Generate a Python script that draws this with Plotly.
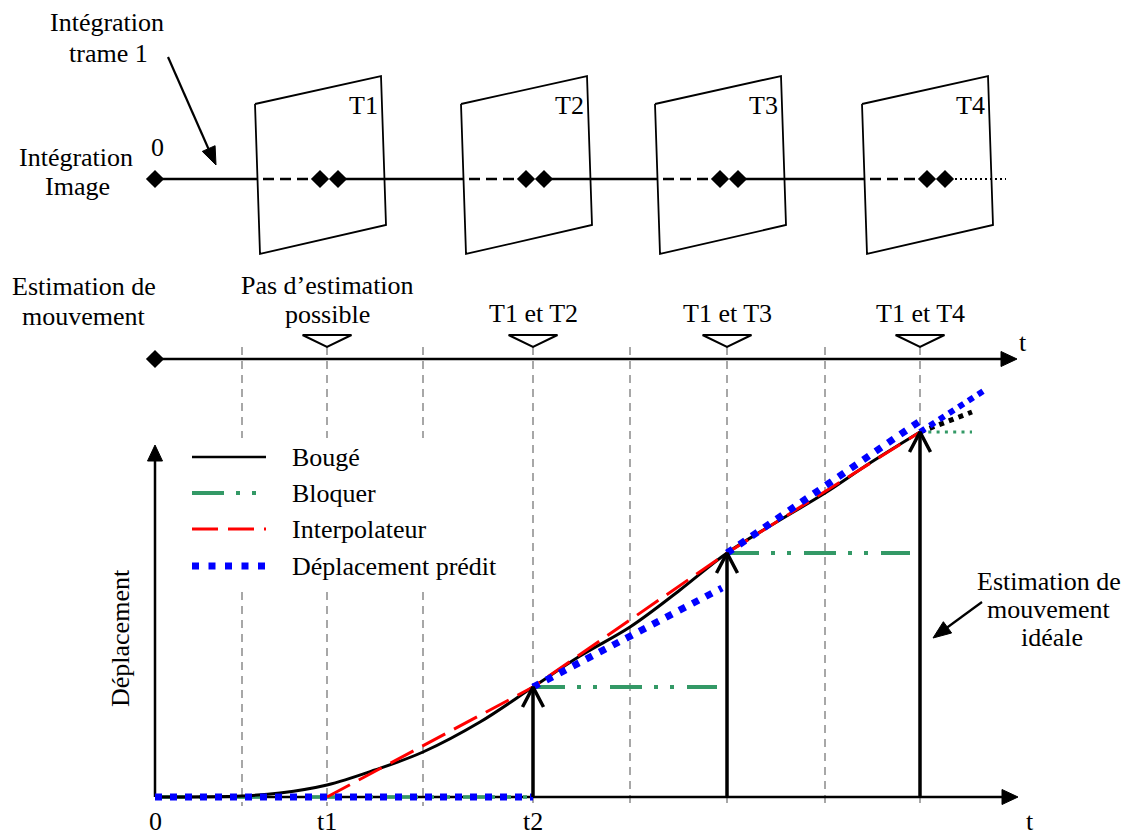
import numpy as np
import plotly.graph_objects as go

# ---------------- graph data (graph units) ----------------
T_GRID = [0.87, 1.72, 2.68, 3.78, 4.75, 5.72, 6.70, 7.65]   # dashed time marks
GRID_TOP, GRID_BOTTOM = 4.50, -0.09
LEGEND_GAP = (2.05, 3.59)
T_EST = [1.72, 3.78, 5.72, 7.65]                              # t1, t2, t3, t4
EST_LABELS = [["Pas d’estimation", "possible"], ["T1 et T2"], ["T1 et T3"], ["T1 et T4"]]
X_TICK_T = [0, 1.72, 3.78, 8.75]
X_TICK_TEXT = ["0", "t1", "t2", "t"]

BOUGE_T = [0, 0.87, 1.25, 1.72, 2.20, 2.68, 3.25, 3.78, 4.25, 4.75, 5.25, 5.72, 6.20, 6.70, 7.15, 7.65]
BOUGE_D = [0, 0.01, 0.04, 0.12, 0.27, 0.45, 0.75, 1.10, 1.41, 1.70, 2.07, 2.44, 2.74, 3.04, 3.34, 3.65]
BOUGE_FUT_T = [7.65, 8.17]
BOUGE_FUT_D = [3.65, 3.85]

INTERP_T = [1.72, 3.78, 5.72, 7.65]
INTERP_D = [0.0, 1.10, 2.44, 3.65]

MEAS_T = [3.78, 5.72, 7.65]          # ideal estimation instants
MEAS_D = [1.10, 2.44, 3.65]

BLOQ_BASE_T = [0.0, 3.78]
BLOQ_HOLD_END = [5.62, 7.55]          # end of the hold after t2, t3
BLOQ_FUT_END = 8.17

PRED_BASE_T = [0.0, 3.78]
PRED2_T = [3.78, 5.67]; PRED2_D = [1.10, 2.09]
PRED3_T = [5.72, 7.65]; PRED3_D = [2.44, 3.76]
PRED4_T = [7.65, 8.30]; PRED4_D = [3.65, 4.07]

X_AXIS_TIP = 8.63
Y_AXIS_TIP = 3.52

# ---------------- diagram data (pixel units) ----------------
FRAME_LEFT = [255, 461, 655, 862]
FRAME_LABELS = ["T1", "T2", "T3", "T4"]
LINE1_Y = 179
LINE2_Y = 359
LINE_START = 155
LINE1_DOT_END = 1006
LINE2_TIP = 1017

LEG_LABELS = ["Bougé", "Bloquer", "Interpolateur", "Déplacement prédit"]
LEG_Y = [457, 493, 529, 566]

GREEN = "#339966"
GRAY = "#8a8a8a"
FONT = "Liberation Serif"
FS = 26

fig = go.Figure()


def seg(x, y, color, width, dash="solid", xa="x", ya="y", shape="linear"):
    fig.add_trace(go.Scatter(x=x, y=y, mode="lines", xaxis=xa, yaxis=ya,
                             line=dict(color=color, width=width, dash=dash, shape=shape),
                             hoverinfo="skip", showlegend=False))


def head(xt, yt, xf, yf, length, half):
    d = np.array([xt - xf, yt - yf], float)
    d /= np.linalg.norm(d)
    n = np.array([-d[1], d[0]])
    b = np.array([xt, yt]) - d * length
    p1, p2 = b + n * half, b - n * half
    return [xt, p1[0], p2[0], xt], [yt, p1[1], p2[1], yt]


def filled(x, y, xa="x", ya="y"):
    fig.add_trace(go.Scatter(x=x, y=y, mode="lines", fill="toself", fillcolor="black",
                             xaxis=xa, yaxis=ya, line=dict(color="black", width=1),
                             hoverinfo="skip", showlegend=False))


def text(x, y, s, xa="x2", ya="y2", anchor="center", angle=0):
    fig.add_annotation(x=x, y=y, xref=xa, yref=ya, text=s, showarrow=False,
                       xanchor=anchor, yanchor="middle", textangle=angle,
                       font=dict(family=FONT, size=FS, color="black"))


# ---- gray dashed time marks (graph units) ----
gx, gy = [], []
for t in T_GRID:
    if t < 3:
        gx += [t, t, None, t, t, None]
        gy += [GRID_TOP, LEGEND_GAP[1], None, LEGEND_GAP[0], GRID_BOTTOM, None]
    else:
        gx += [t, t, None]
        gy += [GRID_TOP, GRID_BOTTOM, None]
seg(gx, gy, GRAY, 1.5, "8px,6px")

# ---- graph axes ----
seg([0, X_AXIS_TIP - 0.14], [0, 0], "black", 2.5)
hx, hy = head(X_AXIS_TIP, 0, 0, 0, 0.16, 0.075)
filled(hx, hy)
seg([0, 0], [0, Y_AXIS_TIP - 0.14], "black", 2.5)
hx, hy = head(0, Y_AXIS_TIP, 0, 0, 0.16, 0.075)
filled(hx, hy)

# ---- Bloquer (green) ----
BLOQ_DASH = "32px,12px,4px,12px,4px,13px"
seg(BLOQ_BASE_T, [0, 0], GREEN, 3.5, BLOQ_DASH)
for t, d, e in zip(MEAS_T[:2], MEAS_D[:2], BLOQ_HOLD_END):
    seg([t, e], [d, d], GREEN, 4, BLOQ_DASH)
seg([MEAS_T[2], BLOQ_FUT_END], [MEAS_D[2], MEAS_D[2]], GREEN, 3, "3px,5.3px")

# ---- Bougé (black) ----
seg(BOUGE_T, BOUGE_D, "black", 3, shape="spline")
seg(BOUGE_FUT_T, BOUGE_FUT_D, "black", 5, "5px,5.3px")

# ---- Interpolateur (red) ----
seg(INTERP_T, INTERP_D, "red", 3, "26px,10px")

# ---- Déplacement prédit (blue) ----
PRED_DASH = "7px,8px"
seg(PRED_BASE_T, [0, 0], "blue", 7, PRED_DASH)
seg(PRED2_T, PRED2_D, "blue", 7, PRED_DASH)
seg(PRED3_T, PRED3_D, "blue", 7, PRED_DASH)
seg(PRED4_T, PRED4_D, "blue", 6, "6px,5.5px")

# ---- ideal estimation arrows ----
ax, ay = [], []
for t, d in zip(MEAS_T, MEAS_D):
    ax += [t, t, None, t - 0.105, t, t + 0.105, None]
    ay += [0, d, None, d - 0.20, d, d - 0.20, None]
seg(ax, ay, "black", 3.5)

for t, s in zip(X_TICK_T, X_TICK_TEXT):
    text(t, 821, s, "x", "y2")
text(120, 638, "Déplacement", angle=-90)

# ---- timeline 1 (integration) ----
sx, sy, dx, dy = [LINE_START, FRAME_LEFT[0] + 2], [LINE1_Y, LINE1_Y], [], []
sx.append(None); sy.append(None)
for i, L in enumerate(FRAME_LEFT):
    dx += [L + 8, L + 58, None]; dy += [LINE1_Y, LINE1_Y, None]
    if i + 1 < len(FRAME_LEFT):
        sx += [L + 83, FRAME_LEFT[i + 1] + 2, None]; sy += [LINE1_Y, LINE1_Y, None]
seg(sx, sy, "black", 2.5, "solid", "x2", "y2")
seg(dx, dy, "black", 2.5, "11px,6px", "x2", "y2")
seg([FRAME_LEFT[-1] + 83, LINE1_DOT_END], [LINE1_Y, LINE1_Y], "black", 2, "2px,3px", "x2", "y2")

# frames
fx, fy = [], []
for L in FRAME_LEFT:
    fx += [L, L + 126, L + 131, L + 5, L, None]
    fy += [104, 76, 225, 254, 104, None]
seg(fx, fy, "black", 1.8, "solid", "x2", "y2")
for L, lab in zip(FRAME_LEFT, FRAME_LABELS):
    text(L + 108, 105, lab)

# diamonds on timeline 1
dmx = [LINE_START] + [L + o for L in FRAME_LEFT for o in (65, 83)]
fig.add_trace(go.Scatter(x=dmx, y=[LINE1_Y] * len(dmx), mode="markers", xaxis="x2", yaxis="y2",
                         marker=dict(symbol="diamond", size=14, color="black"),
                         hoverinfo="skip", showlegend=False))

# arrow "Intégration trame 1"
seg([168, 209], [57, 150], "black", 2.2, "solid", "x2", "y2")
hx, hy = head(216, 165, 168, 57, 18, 7)
filled(hx, hy, "x2", "y2")

# texts top-left
text(107, 22, "Intégration")
text(108, 53, "trame 1")
text(76, 157, "Intégration")
text(77, 186, "Image")
text(157, 147, "0")

# ---- timeline 2 (motion estimation) ----
seg([LINE_START, LINE2_TIP - 12], [LINE2_Y, LINE2_Y], "black", 2.5, "solid", "x2", "y2")
hx, hy = head(LINE2_TIP, LINE2_Y, LINE_START, LINE2_Y, 16, 7.5)
filled(hx, hy, "x2", "y2")
fig.add_trace(go.Scatter(x=[LINE_START], y=[LINE2_Y], mode="markers", xaxis="x2", yaxis="y2",
                         marker=dict(symbol="diamond", size=14, color="black"),
                         hoverinfo="skip", showlegend=False))
text(1023, 342, "t")
text(84, 286, "Estimation de")
text(84, 316, "mouvement")

# triangles (x graph units, y pixels)
tx, ty = [], []
for t in T_EST:
    tx += [t - 0.245, t + 0.245, t, t - 0.245, None]
    ty += [335, 335, 347, 335, None]
seg(tx, ty, "black", 2, "solid", "x", "y2")
for t, lines in zip(T_EST, EST_LABELS):
    if len(lines) == 2:
        text(t, 285, lines[0], "x", "y2")
        text(t, 314, lines[1], "x", "y2")
    else:
        text(t, 313, lines[0], "x", "y2")

# annotation "Estimation de mouvement idéale"
seg([982, 941], [602, 632], "black", 2.2, "solid", "x2", "y2")
hx, hy = head(933, 638, 982, 602, 18, 7)
filled(hx, hy, "x2", "y2")
text(1049, 581, "Estimation de")
text(1049, 609, "mouvement")
text(1052, 637, "idéale")

# ---- legend ----
leg_styles = [("black", 2.5, "solid"), (GREEN, 4, BLOQ_DASH),
              ("red", 3, "26px,10px"), ("blue", 7, "7px,9.5px")]
for (c, w, ds), yy, lab in zip(leg_styles, LEG_Y, LEG_LABELS):
    seg([192, 266], [yy, yy], c, w, ds, "x2", "y2")
    text(290, yy, lab, anchor="left")

fig.update_layout(
    width=1132, height=836, margin=dict(l=0, r=0, t=0, b=0),
    paper_bgcolor="white", plot_bgcolor="white", showlegend=False,
    xaxis=dict(range=[-1.55, 9.77], visible=False, domain=[0, 1], fixedrange=True),
    yaxis=dict(range=[-0.39, 7.97], visible=False, domain=[0, 1], fixedrange=True),
    xaxis2=dict(range=[0, 1132], visible=False, overlaying="x", fixedrange=True),
    yaxis2=dict(range=[836, 0], visible=False, overlaying="y", fixedrange=True),
)

fig.write_html("out.html", config={"displayModeBar": False},
               post_script="document.body.style.margin='0';document.body.style.overflow='hidden';")
